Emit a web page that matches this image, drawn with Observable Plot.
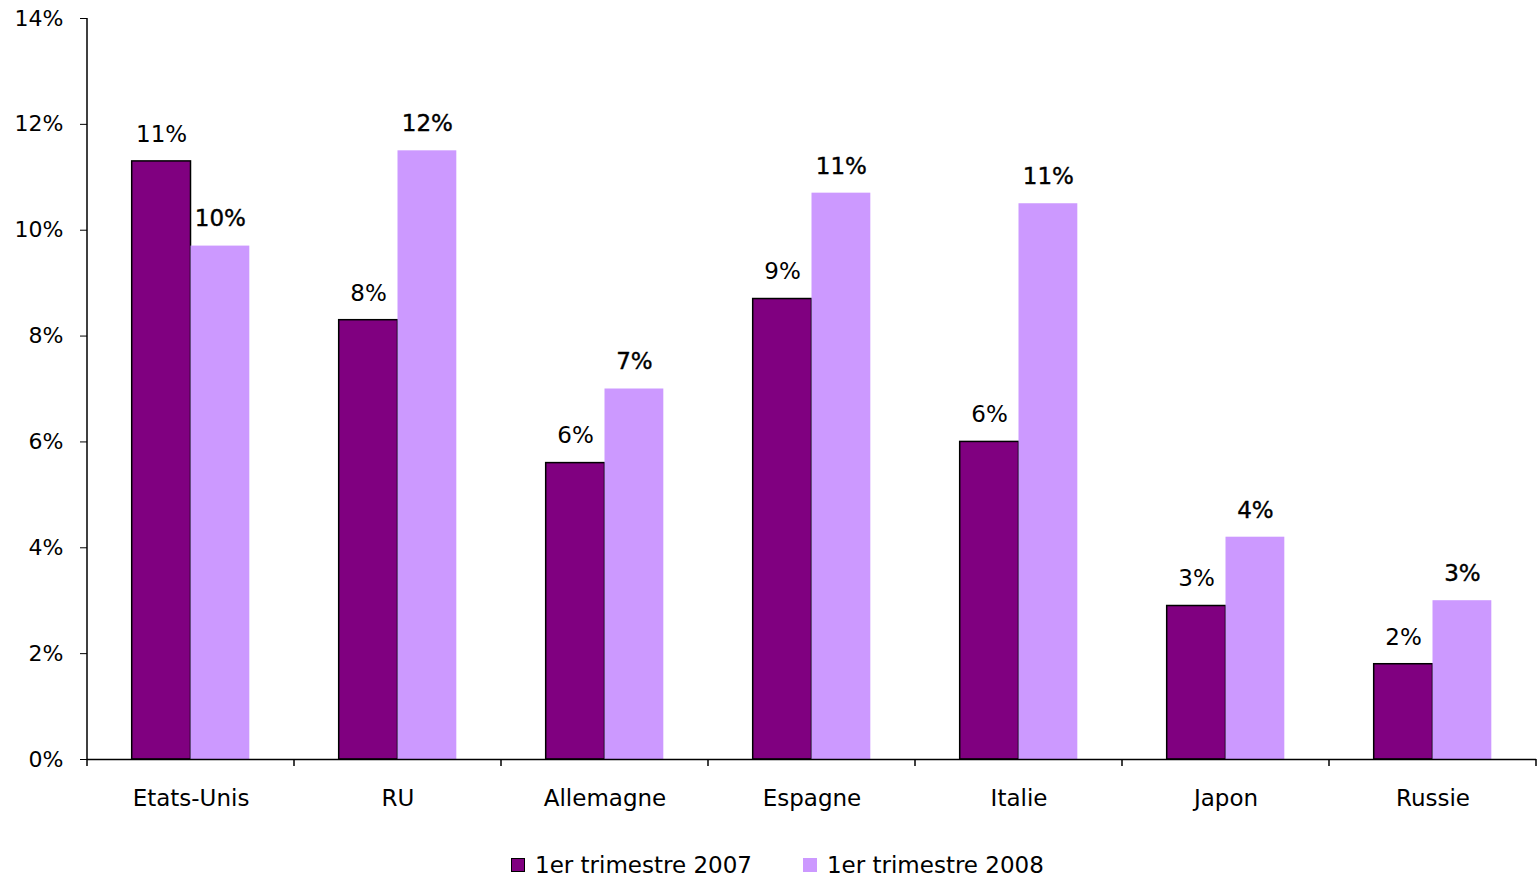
<!DOCTYPE html>
<html>
<head>
<meta charset="utf-8">
<script src="https://cdn.jsdelivr.net/npm/d3@7"></script>
<script src="https://cdn.jsdelivr.net/npm/@observablehq/plot@0.6"></script>
<style>
  html, body { margin: 0; padding: 0; background: #fff; }
  body { font-family: 'DejaVu Sans', sans-serif; color: #000; width: 1537px; }
  #chart svg { display: block; }
  #legend { height: 59px; box-sizing: border-box; padding-top: 30px; padding-left: 511px; display: flex; align-items: center; font-size: 23px; line-height: 30px; }
  .item { display: flex; align-items: center; }
  .sw { width: 14px; height: 14px; box-sizing: border-box; margin-right: 10px; }
</style>
</head>
<body>
<div id="chart"></div>
<div id="legend"></div>
<script>
const countries = ["Etats-Unis", "RU", "Allemagne", "Espagne", "Italie", "Japon", "Russie"];
const series = ["1er trimestre 2007", "1er trimestre 2008"];
const values2007 = [11.3, 8.3, 5.6, 8.7, 6.0, 2.9, 1.8];
const values2008 = [9.7, 11.5, 7.0, 10.7, 10.5, 4.2, 3.0];
const yTicks = [0, 2, 4, 6, 8, 10, 12, 14];
const colors = ["#800080", "#CC99FF"];

const data2007 = countries.map((c, i) => ({country: c, series: series[0], value: values2007[i]}));
const data2008 = countries.map((c, i) => ({country: c, series: series[1], value: values2008[i]}));
const fmt = d => Math.round(d.value) + "%";

const chart = Plot.plot({
  width: 1537,
  height: 820,
  marginLeft: 87,
  marginRight: 1,
  marginTop: 18,
  marginBottom: 61,
  style: {fontFamily: "'DejaVu Sans', sans-serif", fontSize: "22px", color: "#000", background: "#fff", overflow: "visible"},
  fx: {domain: countries, paddingInner: 0, paddingOuter: 0, label: null, tickSize: 0, tickPadding: 30, axis: "bottom", fontSize: 23},
  x: {domain: series, paddingInner: 0, paddingOuter: 0.76, round: false, axis: null},
  y: {domain: [0, 14], ticks: yTicks, tickFormat: d => d + "%", tickSize: 7, tickPadding: 17, label: null},
  marks: [
    Plot.barY(data2007, {fx: "country", x: "series", y: "value", fill: colors[0], stroke: "#000", strokeWidth: 1.5}),
    Plot.barY(data2008, {fx: "country", x: "series", y: "value", fill: colors[1]}),
    Plot.text(data2007, {fx: "country", x: "series", y: "value", text: fmt, dy: -27, fill: "#000", fontSize: 23}),
    Plot.text(data2008, {fx: "country", x: "series", y: "value", text: fmt, dy: -27, fill: "#000", stroke: "#000", strokeWidth: 0.4, fontSize: 23, ariaLabel: "labels2008"}),
    Plot.ruleY([0], {stroke: "#000", strokeWidth: 1.5})
  ]
});
document.getElementById("chart").appendChild(chart);

const svg = d3.select(chart);
svg.selectAll('g[aria-label="labels2008"] text').style("letter-spacing", "1.5px");
svg.selectAll('g[aria-label="fx-axis tick label"] text, g[aria-label="fx-axis tick label"]').style("font-size", "23px");

// axis line and category boundary ticks, positioned via Plot's own scales
const fx = chart.scale("fx");
const y = chart.scale("y");
const x0 = fx.apply(countries[0]);
const y0 = y.apply(0);
const bounds = countries.map(c => fx.apply(c)).concat([fx.apply(countries[countries.length - 1]) + fx.bandwidth]);
svg.append("line").attr("x1", x0).attr("x2", x0).attr("y1", y.apply(14)).attr("y2", y0)
  .attr("stroke", "#000").attr("stroke-width", 1.5);
svg.append("g").selectAll("line").data(bounds).join("line")
  .attr("x1", d => d).attr("x2", d => d).attr("y1", y0).attr("y2", y0 + 7)
  .attr("stroke", "#000").attr("stroke-width", 1.5);

// legend
const legend = d3.select("#legend");
series.forEach((s, i) => {
  const it = legend.append("div").attr("class", "item").style("margin-right", i === 0 ? "51px" : "0");
  it.append("div").attr("class", "sw").style("background", colors[i]).style("border", i === 0 ? "1.5px solid #000" : "none");
  it.append("span").text(s);
});
</script>
</body>
</html>
